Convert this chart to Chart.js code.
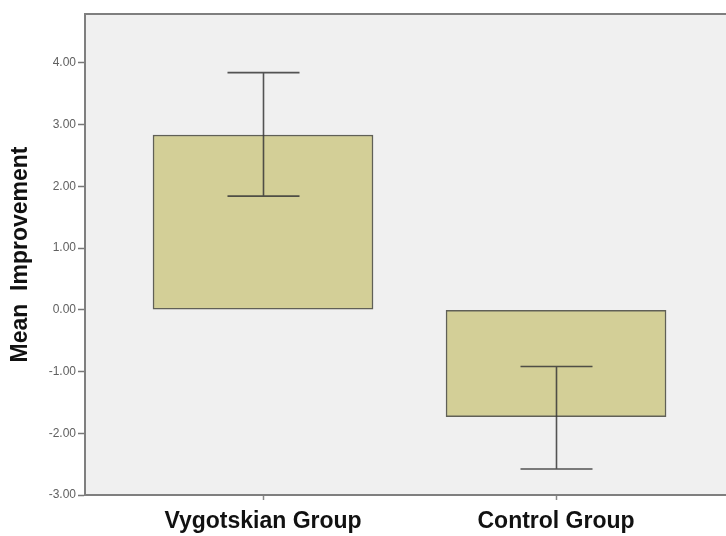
<!DOCTYPE html>
<html>
<head>
<meta charset="utf-8">
<script src="https://cdn.jsdelivr.net/npm/chart.js@4/dist/chart.umd.min.js"></script>
<style>
  html, body { margin: 0; padding: 0; background: #ffffff; }
  #wrap { width: 726px; height: 536px; }
</style>
</head>
<body>
<div id="wrap"><canvas id="c" width="726" height="536"></canvas></div>
<script>
// ---- data ----
const categories = ['Vygotskian Group', 'Control Group'];
const meanValues = [2.83, -1.73];
const errorLow = [1.84, -2.58];
const errorHigh = [3.84, -0.92];
const yTickValues = [-3, -2, -1, 0, 1, 2, 3, 4];
const yAxisTitle = 'Mean  Improvement';

const bgPlugin = {
  id: 'bgPlugin',
  beforeDraw(chart) {
    const { ctx, chartArea: a } = chart;
    ctx.save();
    ctx.fillStyle = '#ffffff';
    ctx.fillRect(0, 0, chart.width, chart.height);
    ctx.fillStyle = '#f0f0f0';
    ctx.fillRect(a.left, a.top, a.right - a.left, a.bottom - a.top);
    ctx.restore();
  },
  afterDraw(chart) {
    const { ctx, chartArea: a } = chart;
    ctx.save();
    ctx.strokeStyle = '#7f7f7f';
    ctx.lineWidth = 2;
    ctx.beginPath();
    ctx.moveTo(a.left - 1, a.top);
    ctx.lineTo(a.right, a.top);
    ctx.stroke();
    ctx.restore();
  }
};

const errorBarPlugin = {
  id: 'errorBars',
  afterDatasetsDraw(chart) {
    const { ctx, scales: { x, y } } = chart;
    ctx.save();
    ctx.strokeStyle = 'rgba(55,55,55,0.85)';
    ctx.lineWidth = 1.6;
    const cap = 36;
    for (let i = 0; i < meanValues.length; i++) {
      const px = Math.round(x.getPixelForValue(i)) + 0.5;
      const yl = y.getPixelForValue(errorLow[i]);
      const yh = y.getPixelForValue(errorHigh[i]);
      ctx.beginPath();
      ctx.moveTo(px, yl); ctx.lineTo(px, yh);
      ctx.moveTo(px - cap, yl); ctx.lineTo(px + cap, yl);
      ctx.moveTo(px - cap, yh); ctx.lineTo(px + cap, yh);
      ctx.stroke();
    }
    ctx.restore();
  }
};

new Chart(document.getElementById('c'), {
  type: 'bar',
  data: {
    datasets: [{
      data: meanValues.map((v, i) => ({ x: i, y: v })),
      backgroundColor: 'rgb(211,207,151)',
      borderColor: 'rgba(70,70,60,0.85)',
      borderWidth: 1.5,
      borderSkipped: false,
      barThickness: 220
    }]
  },
  options: {
    responsive: false,
    animation: false,
    layout: { padding: { top: 14, right: 0, left: 0, bottom: 0 } },
    plugins: { legend: { display: false }, tooltip: { enabled: false } },
    scales: {
      x: {
        type: 'linear',
        offset: false,
        min: -0.6075,
        max: 1.58,
        afterBuildTicks(scale) { scale.ticks = categories.map((c, i) => ({ value: i })); },
        afterFit(scale) { scale.height = 41; },
        ticks: {
          callback: (v) => categories[v] ?? '',
          color: '#111111',
          font: { family: 'Liberation Sans, Arial, sans-serif', size: 23, weight: 'bold' },
          padding: 8,
          maxRotation: 0,
          autoSkip: false
        },
        grid: { offset: false, drawOnChartArea: false, tickLength: 5, color: '#888888', tickWidth: 1.5 },
        border: { display: true, color: '#7f7f7f', width: 2 }
      },
      y: {
        min: -3,
        max: 4.79,
        afterBuildTicks(scale) { scale.ticks = yTickValues.map(v => ({ value: v })); },
        afterFit(scale) { scale.width = 85; },
        ticks: {
          callback: (v) => Number(v).toFixed(2),
          color: '#606060',
          font: { family: 'Liberation Sans, Arial, sans-serif', size: 12 },
          padding: 2
        },
        grid: { drawOnChartArea: false, tickLength: 7, color: '#777777', tickWidth: 1.5 },
        border: { display: true, color: '#7f7f7f', width: 2 },
        title: {
          display: true,
          text: yAxisTitle,
          color: '#111111',
          font: { family: 'Liberation Sans, Arial, sans-serif', size: 23, weight: 'bold' },
          padding: { top: 7, bottom: 0 }
        }
      }
    }
  },
  plugins: [bgPlugin, errorBarPlugin]
});
</script>
</body>
</html>
